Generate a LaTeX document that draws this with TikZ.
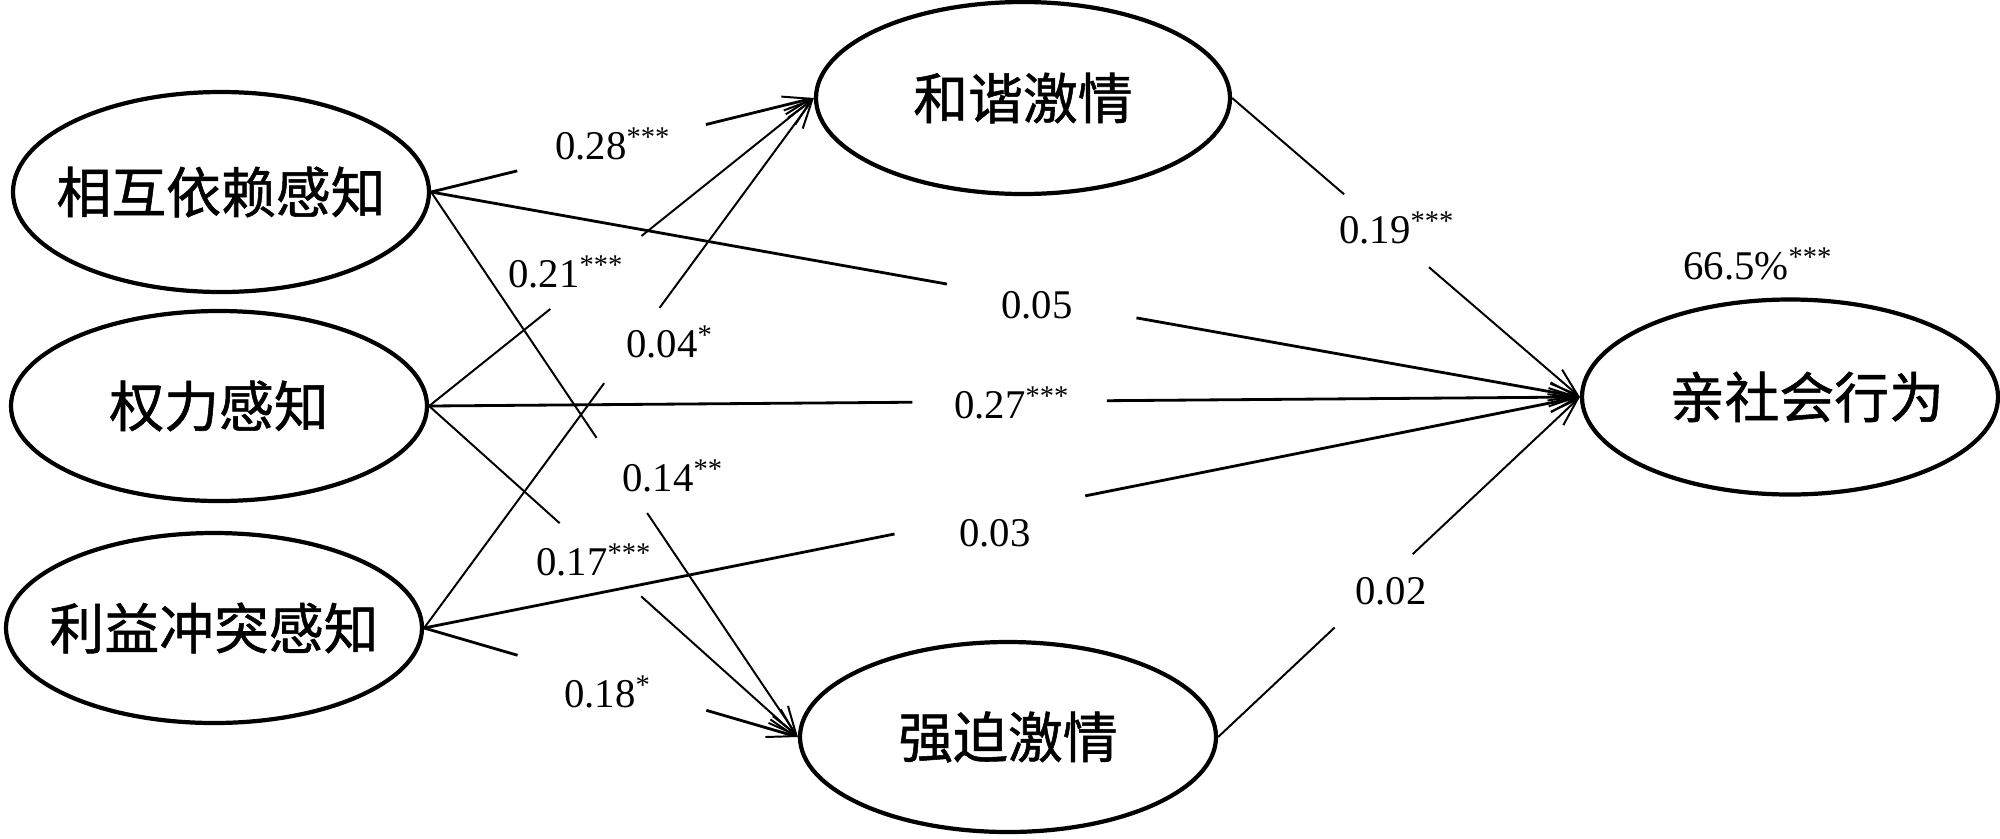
\documentclass[tikz,border=0pt]{standalone}
\usepackage{fontspec}
\setmainfont{Liberation Serif}
\newfontfamily\cjk[FakeBold=1]{Noto Sans CJK SC}
\usetikzlibrary{shapes.geometric,arrows.meta}
\begin{document}
\begin{tikzpicture}[x=0.25mm,y=-0.25mm,
 latent/.style={draw,ellipse,line width=3pt,inner sep=0pt,minimum width=104mm,minimum height=49mm,font=\cjk\fontsize{39}{40}\selectfont},
 conn/.style={line width=1.4pt},
 connb/.style={line width=2pt},
 arr/.style={-{Straight Barb[length=20pt,width=13pt,line width=1.4pt]}},
 lab/.style={anchor=base west,inner sep=0pt,font=\fontsize{29}{30}\selectfont}]
\useasboundingbox (0,0) rectangle (2000,838);
% latent variables
\node[latent,minimum height=50mm] (A) at (221,192) {\makebox[0pt]{相互依赖感知}};
\node[latent,minimum height=47.5mm] (B) at (219,406) {\makebox[0pt]{权力感知}};
\node[latent,minimum height=47.5mm] (C) at (214,628) {\makebox[0pt]{利益冲突感知}};
\node[latent,minimum width=103.5mm,minimum height=48mm] (D) at (1023,98) {\makebox[0pt]{和谐激情}};
\node[latent,minimum height=47.5mm] (E) at (1008,737) {\makebox[0pt]{强迫激情}};
\node[latent,minimum height=48.75mm] (F) at (1790,397) {\makebox[0pt]{\hspace{24pt}亲社会行为}};
% break points
\path (A.east) -- (D.west) coordinate[pos=0.225] (e1a) coordinate[pos=0.718] (e1b);
\path (A.east) -- (F.west) coordinate[pos=0.449] (e2a) coordinate[pos=0.614] (e2b);
\path (A.east) -- (E.west) coordinate[pos=0.451] (e3a) coordinate[pos=0.589] (e3b);
\path (B.east) -- (D.west) coordinate[pos=0.315] (e4a) coordinate[pos=0.552] (e4b);
\path (B.east) -- (F.west) coordinate[pos=0.42] (e5a) coordinate[pos=0.589] (e5b);
\path (B.east) -- (E.west) coordinate[pos=0.354] (e6a) coordinate[pos=0.575] (e6b);
\path (C.east) -- (D.west) coordinate[pos=0.462] (e7a) coordinate[pos=0.604] (e7b);
\path (C.east) -- (F.west) coordinate[pos=0.407] (e8a) coordinate[pos=0.572] (e8b);
\path (C.east) -- (E.west) coordinate[pos=0.25] (e9a) coordinate[pos=0.755] (e9b);
\path (D.east) -- (F.west) coordinate[pos=0.322] (e10a) coordinate[pos=0.566] (e10b);
\path (E.east) -- (F.west) coordinate[pos=0.322] (e11a) coordinate[pos=0.538] (e11b);
% connectors
\draw[connb] (A.east) -- (e1a);  \draw[connb,arr] (e1b) -- (D.west);
\draw[connb] (A.east) -- (e2a);  \draw[connb,arr] (e2b) -- (F.west);
\draw[conn] (A.east) -- (e3a);   \draw[conn,arr] (e3b) -- (E.west);
\draw[conn] (B.east) -- (e4a);   \draw[conn,arr] (e4b) -- (D.west);
\draw[connb] (B.east) -- (e5a);  \draw[connb,arr] (e5b) -- (F.west);
\draw[conn] (B.east) -- (e6a);   \draw[conn,arr] (e6b) -- (E.west);
\draw[conn] (C.east) -- (e7a);   \draw[conn,arr] (e7b) -- (D.west);
\draw[connb] (C.east) -- (e8a);  \draw[connb,arr] (e8b) -- (F.west);
\draw[connb] (C.east) -- (e9a);  \draw[connb,arr] (e9b) -- (E.west);
\draw[conn] (D.east) -- (e10a);  \draw[conn,arr] (e10b) -- (F.west);
\draw[conn] (E.east) -- (e11a);  \draw[conn,arr] (e11b) -- (F.west);
% labels
\node[lab] (l1) at (555,159) {0.28\textsuperscript{***}};
\node[lab] (l2) at (1001,318) {0.05};
\node[lab] (l3) at (622,491) {0.14\textsuperscript{**}};
\node[lab] (l4) at (508,287) {0.21\textsuperscript{***}};
\node[lab] (l5) at (954,418) {0.27\textsuperscript{***}};
\node[lab] (l6) at (536,575) {0.17\textsuperscript{***}};
\node[lab] (l7) at (626,357) {0.04\textsuperscript{*}};
\node[lab] (l8) at (959,546) {0.03};
\node[lab] (l9) at (564,707) {0.18\textsuperscript{*}};
\node[lab] (l10) at (1339,243) {0.19\textsuperscript{***}};
\node[lab] (l11) at (1355,604) {0.02};
\node[lab] (l12) at (1683,279) {66.5\%\textsuperscript{***}};
\end{tikzpicture}
\end{document}
